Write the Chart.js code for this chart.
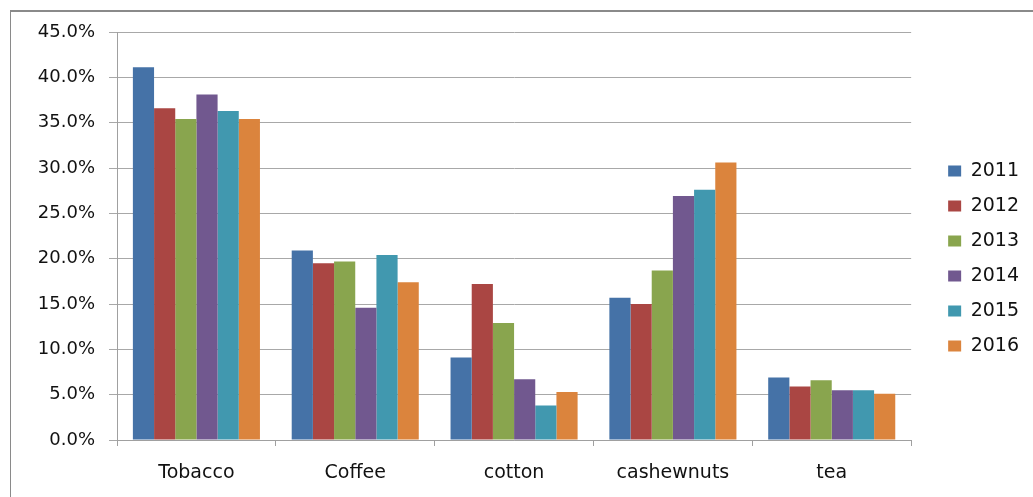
<!DOCTYPE html>
<html>
<head>
<meta charset="utf-8">
<script src="https://cdn.jsdelivr.net/npm/chart.js@4.4.1/dist/chart.umd.min.js"></script>
<style>
  body { margin: 0; background: #fff; }
  #wrap { position: relative; width: 1033px; height: 497px; overflow: hidden; }
  #frame { position: absolute; left: 10px; top: 10px; width: 1100px; height: 600px;
           border-left: 1px solid #8a8a8a; border-top: 2px solid #8a8a8a; }
  canvas { position: absolute; left: 0; top: 0; }
</style>
</head>
<body>
<div id="wrap">
  <div id="frame"></div>
  <canvas id="chart" width="1033" height="497"></canvas>
</div>
<script>
const crops = ["Tobacco", "Coffee", "cotton", "cashewnuts", "tea"];
const years = ["2011", "2012", "2013", "2014", "2015", "2016"];
const colors = ["#4572A7", "#AA4643", "#89A54E", "#71588F", "#4198AF", "#DB843D"];

// share in percent, one array per year
const v2011 = [41.1, 20.9, 9.1, 15.7, 6.9];
const v2012 = [36.6, 19.5, 17.2, 15.0, 5.9];
const v2013 = [35.4, 19.7, 12.9, 18.7, 6.6];
const v2014 = [38.1, 14.6, 6.7, 26.9, 5.5];
const v2015 = [36.3, 20.4, 3.8, 27.6, 5.5];
const v2016 = [35.4, 17.4, 5.3, 30.6, 5.1];
const series = [v2011, v2012, v2013, v2014, v2015, v2016];

const yTicks = [0, 5, 10, 15, 20, 25, 30, 35, 40, 45];

const font = "'DejaVu Sans', Verdana, sans-serif";

const ctx = document.getElementById("chart").getContext("2d");
new Chart(ctx, {
  type: 'bar',
  data: {
    labels: crops,
    datasets: years.map((y, i) => ({
      label: y,
      data: series[i],
      backgroundColor: colors[i],
      borderWidth: 0,
      categoryPercentage: 0.8,
      barPercentage: 1.0
    }))
  },
  options: {
    responsive: false,
    animation: false,
    layout: { padding: { top: 32, right: 4, bottom: 12, left: 0 } },
    plugins: {
      tooltip: { enabled: false },
      legend: {
        position: 'right',
        labels: {
          color: '#111',
          font: { family: font, size: 19 },
          boxWidth: 13,
          boxHeight: 11,
          padding: 16
        }
      }
    },
    scales: {
      x: {
        grid: { offset: true, drawOnChartArea: false, drawTicks: true, tickLength: 6, color: '#a0a0a0' },
        border: { color: '#a0a0a0' },
        ticks: { color: '#111', font: { family: font, size: 19 }, padding: 16 },
        afterFit: s => { s.height = 45; }
      },
      y: {
        min: 0,
        max: 45,
        afterBuildTicks: s => { s.ticks = yTicks.map(v => ({ value: v })); },
        grid: { color: '#a8a8a8', tickLength: 8 },
        border: { color: '#a0a0a0' },
        ticks: {
          color: '#111',
          font: { family: font, size: 18 },
          padding: 14,
          callback: v => v.toFixed(1) + '%'
        },
        afterFit: s => { s.width = 117; }
      },
      gap: {
        position: 'right',
        display: true,
        grid: { display: false },
        border: { display: false },
        ticks: { display: false },
        afterFit: s => { s.width = 21; }
      }
    }
  }
});
</script>
</body>
</html>
